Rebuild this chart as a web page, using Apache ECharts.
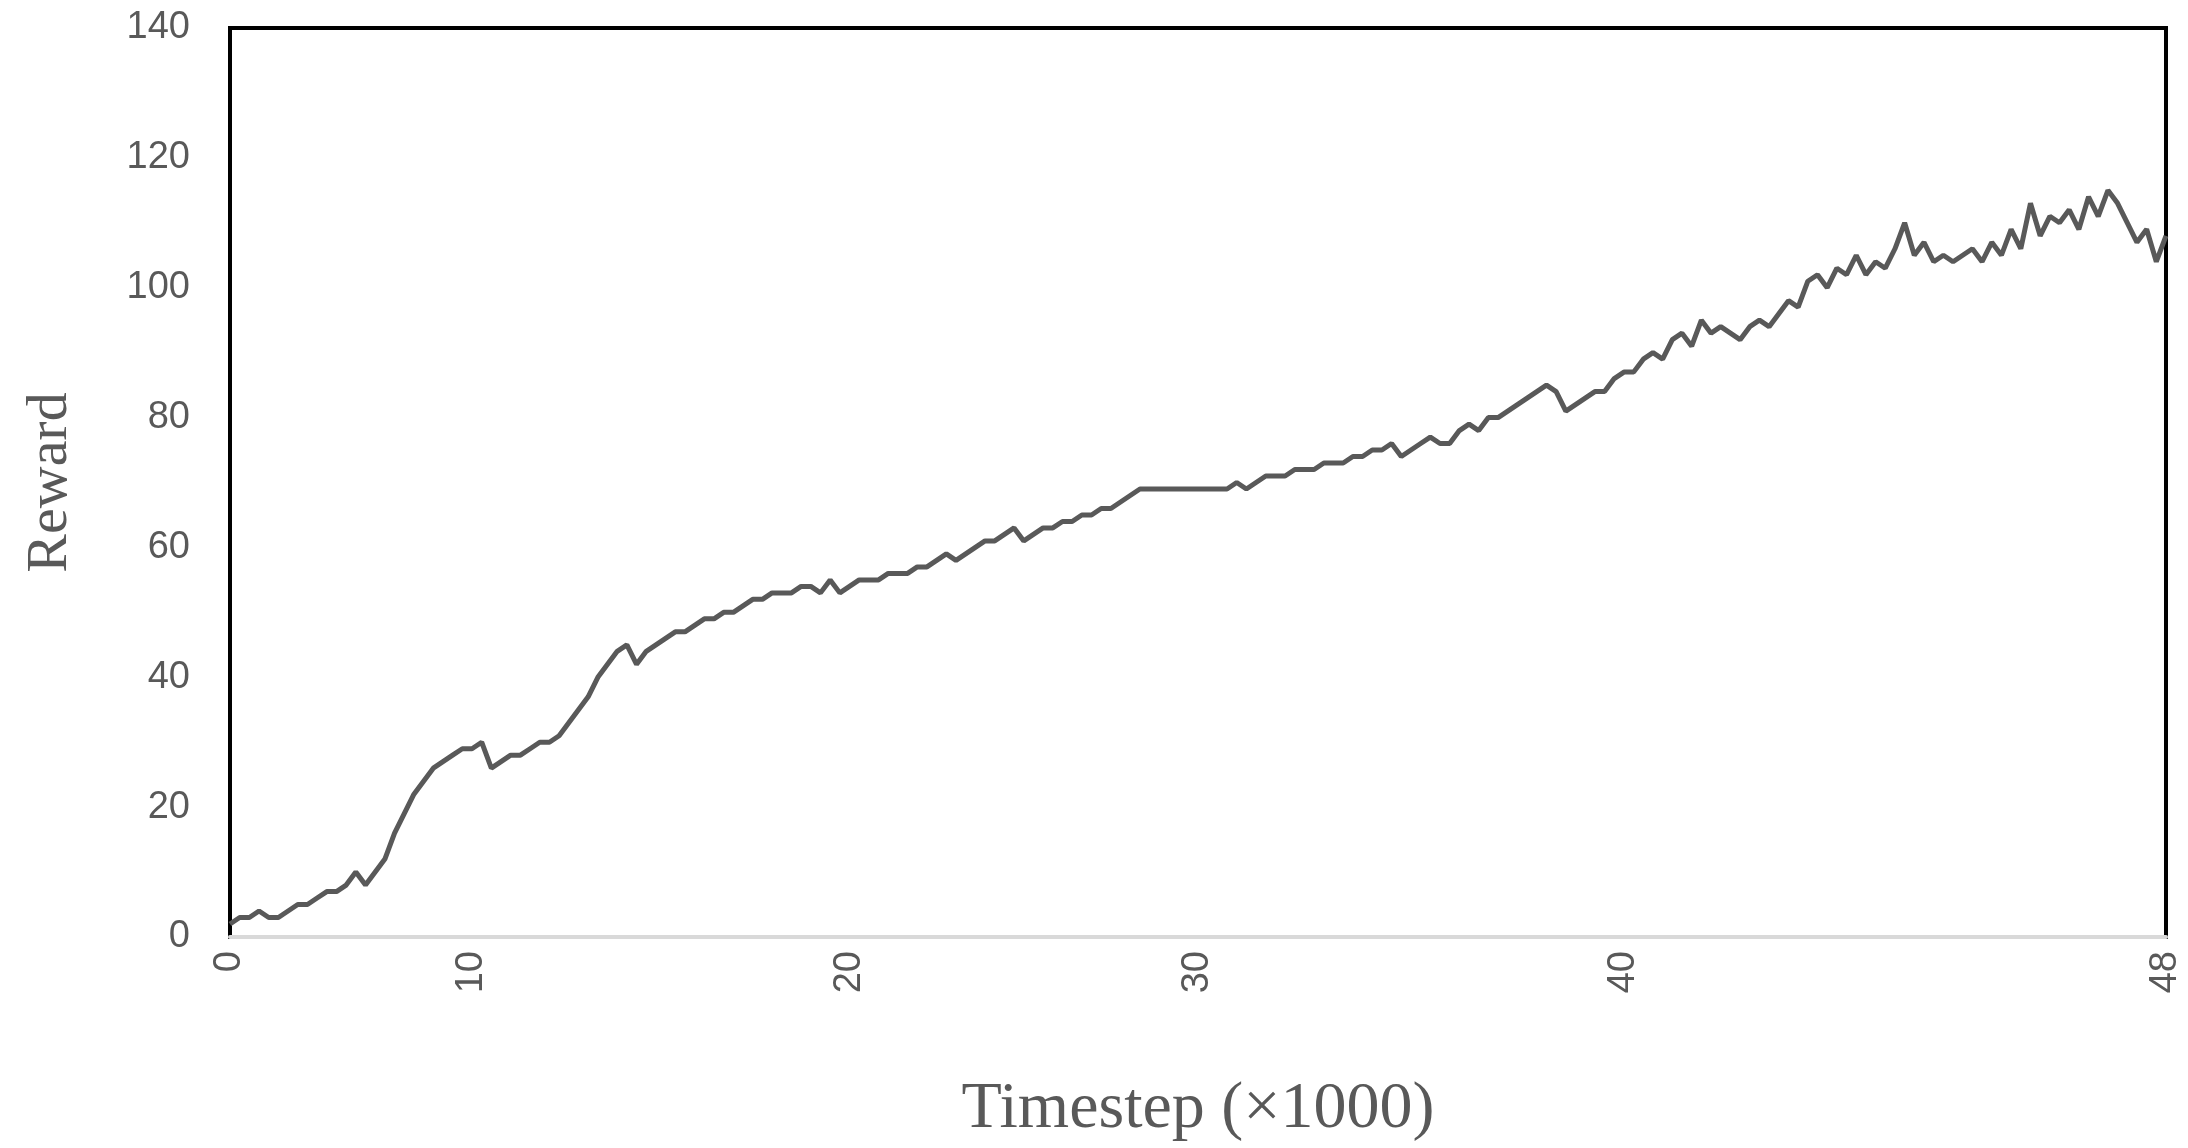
<!DOCTYPE html>
<html>
<head>
<meta charset="utf-8">
<script src="https://cdn.jsdelivr.net/npm/echarts@6/dist/echarts.min.js"></script>
<style>html,body{margin:0;padding:0;background:#fff}#main{width:2188px;height:1148px}</style>
</head>
<body>
<div id="main"></div>
<script>
// reward per sample (201 samples, category axis like the original spreadsheet)
var rewards = [
  2,3,3,4,3,3,4,5,5,6,
  7,7,8,10,8,10,12,16,19,22,
  24,26,27,28,29,29,30,26,27,28,
  28,29,30,30,31,33,35,37,40,42,
  44,45,42,44,45,46,47,47,48,49,
  49,50,50,51,52,52,53,53,53,54,
  54,53,55,53,54,55,55,55,56,56,
  56,57,57,58,59,58,59,60,61,61,
  62,63,61,62,63,63,64,64,65,65,
  66,66,67,68,69,69,69,69,69,69,
  69,69,69,69,70,69,70,71,71,71,
  72,72,72,73,73,73,74,74,75,75,
  76,74,75,76,77,76,76,78,79,78,
  80,80,81,82,83,84,85,84,81,82,
  83,84,84,86,87,87,89,90,89,92,
  93,91,95,93,94,93,92,94,95,94,
  96,98,97,101,102,100,103,102,105,102,
  104,103,106,110,105,107,104,105,104,105,
  106,104,107,105,109,106,113,108,111,110,
  112,109,114,111,115,113,110,107,109,104,108
];
// where the tick labels sit (sample index) and what they say
var tickIndex = [0, 25, 64, 100, 144, 200];
var tickText = ['0', '10', '20', '30', '40', '48'];

var categories = rewards.map(function (v, i) { return String(i); });

var chart = echarts.init(document.getElementById('main'));
chart.setOption({
  animation: false,
  grid: { left: 230, right: 22, top: 28, bottom: 201, show: true, borderColor: '#000', borderWidth: 4 },
  xAxis: {
    type: 'category',
    data: categories,
    boundaryGap: false,
    name: 'Timestep (\u00d71000)',
    nameLocation: 'middle',
    nameGap: 140,
    nameTextStyle: { fontFamily: 'Liberation Serif', fontSize: 66, color: '#595959' },
    axisLine: { lineStyle: { color: '#d9d9d9', width: 4 } },
    axisTick: { show: false },
    axisLabel: {
      rotate: 90,
      fontSize: 38,
      fontFamily: 'Liberation Sans',
      color: '#595959',
      margin: 14,
      interval: function (i) { return tickIndex.indexOf(i) >= 0; },
      formatter: function (v, i) { var k = tickIndex.indexOf(i); return k >= 0 ? tickText[k] : ''; }
    }
  },
  yAxis: {
    type: 'value',
    min: 0, max: 140, interval: 20,
    name: 'Reward',
    nameLocation: 'middle',
    nameGap: 150,
    nameTextStyle: { fontFamily: 'Liberation Serif', fontSize: 58, color: '#595959' },
    splitLine: { show: false },
    axisLine: { show: false },
    axisTick: { show: false },
    axisLabel: { fontSize: 38, fontFamily: 'Liberation Sans', color: '#595959', margin: 40 }
  },
  series: [{
    type: 'line',
    data: rewards,
    showSymbol: false,
    lineStyle: { color: '#595959', width: 5 }
  }]
});
</script>
</body>
</html>
